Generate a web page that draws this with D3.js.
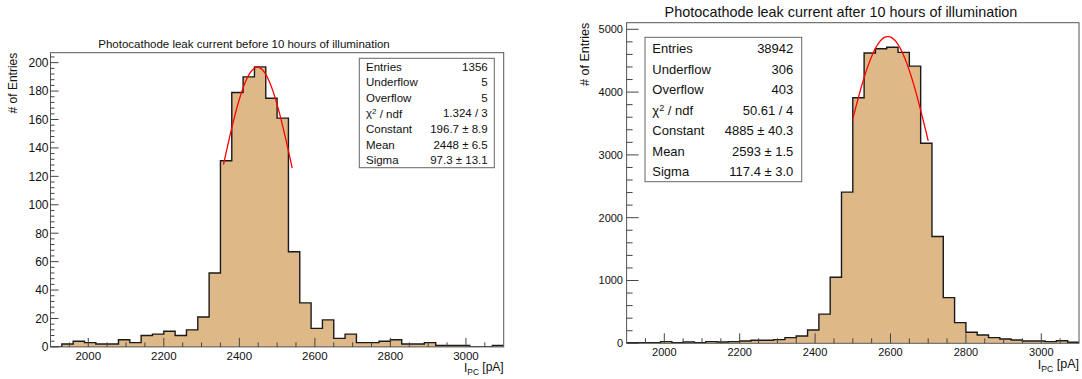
<!DOCTYPE html>
<html>
<head>
<meta charset="utf-8">
<script src="https://cdn.jsdelivr.net/npm/d3@7"></script>
<style>
  html, body { margin: 0; padding: 0; background: #fff; }
  svg { display: block; font-family: "Liberation Sans", Arial, Helvetica, sans-serif; }
</style>
</head>
<body>
<svg id="chart" width="1082" height="379"></svg>
<script>
// Histogram range and binning (40 bins of 30 pA)
const histRange = [1900, 3100];
const binCount = 40;

// Bin contents, before illumination
const beforeCounts = [
  0, 2, 4, 3, 2, 2, 5, 3, 8, 9,
  11, 8, 12, 21, 52, 131, 179, 190, 197, 175,
  161, 67, 31, 13, 19, 6, 9, 3, 3, 4,
  5, 2, 2, 3, 1, 1, 1, 0, 0, 1
];

// Bin contents, after 10 hours of illumination
const afterCounts = [
  10, 10, 10, 26, 10, 21, 10, 26, 21, 26,
  37, 48, 48, 58, 90, 117, 212, 465, 1052, 2407,
  3910, 4623, 4690, 4713, 4633, 4413, 3185, 1700, 727, 329,
  175, 132, 90, 69, 53, 37, 37, 27, 40, 16
];

// Gaussian fit parameters [constant, mean, sigma] and fit ranges
const beforeFit = [196.7, 2448, 97.3];
const beforeFitRange = [2358, 2540];
const afterFit = [4885, 2593, 117.4];
const afterFitRange = [2500, 2700];

// Statistics box contents
const statNames = ["Entries", "Underflow", "Overflow", "CHI2", "Constant", "Mean", "Sigma"];
const beforeStats = ["1356", "5", "5", "1.324 / 3", "196.7 \u00b1 8.9", "2448 \u00b1 6.5", "97.3 \u00b1 13.1"];
const afterStats = ["38942", "306", "403", "50.61 / 4", "4885 \u00b1 40.3", "2593 \u00b1 1.5", "117.4 \u00b1 3.0"];

// Axis tick labels
const xTickValues = [2000, 2200, 2400, 2600, 2800, 3000];
const beforeYTicks = [0, 20, 40, 60, 80, 100, 120, 140, 160, 180, 200];
const afterYTicks = [0, 1000, 2000, 3000, 4000, 5000];

const titles = [
  "Photocathode leak current before 10 hours of illumination",
  "Photocathode leak current after 10 hours of illumination"
];

const svg = d3.select("#chart");

function drawPanel(cfg) {
  const g = svg.append("g");
  const x = d3.scaleLinear().domain(histRange).range([cfg.x0, cfg.x1]);
  const y = d3.scaleLinear().domain([0, cfg.yMax]).range([cfg.y1, cfg.y0]);
  const bw = (histRange[1] - histRange[0]) / binCount;

  const clipId = "clip-" + cfg.id;
  svg.append("clipPath").attr("id", clipId)
    .append("rect").attr("x", cfg.x0).attr("y", cfg.y0)
    .attr("width", cfg.x1 - cfg.x0).attr("height", cfg.y1 - cfg.y0);

  // step points: lower edge of each bin, plus closing upper edge
  const pts = cfg.counts.map((c, i) => [histRange[0] + i * bw, c]);
  pts.push([histRange[1], cfg.counts[cfg.counts.length - 1]]);

  const area = d3.area()
    .x(d => x(d[0])).y0(y(0)).y1(d => y(d[1]))
    .curve(d3.curveStepAfter);
  const line = d3.line()
    .x(d => x(d[0])).y(d => y(d[1]))
    .curve(d3.curveStepAfter);

  const hg = g.append("g").attr("clip-path", `url(#${clipId})`);
  hg.append("path").attr("d", area(pts)).attr("fill", "#deb887");
  hg.append("path").attr("d", line(pts)).attr("fill", "none")
    .attr("stroke", "#1a1a1a").attr("stroke-width", 1.4);

  // Gaussian fit curve
  const [A, mu, sig] = cfg.fit;
  const fx = d3.range(0, 101).map(k => cfg.fitRange[0] + k * (cfg.fitRange[1] - cfg.fitRange[0]) / 100);
  const fitLine = d3.line().x(d => x(d)).y(d => y(A * Math.exp(-0.5 * ((d - mu) / sig) ** 2)));
  hg.append("path").attr("d", fitLine(fx)).attr("fill", "none")
    .attr("stroke", "#ff0000").attr("stroke-width", 1.3);

  // Frame
  g.append("rect").attr("x", cfg.x0).attr("y", cfg.y0)
    .attr("width", cfg.x1 - cfg.x0).attr("height", cfg.y1 - cfg.y0)
    .attr("fill", "none").attr("stroke", "#555").attr("stroke-width", 1);

  // X axis ticks (inside the frame)
  const xMinor = d3.range(histRange[0] + 50, histRange[1], 50).filter(v => v % 200 !== 0);
  g.selectAll(null).data(xMinor).join("line")
    .attr("x1", d => x(d)).attr("x2", d => x(d))
    .attr("y1", cfg.y1).attr("y2", cfg.y1 - cfg.xTickMinor)
    .attr("stroke", "#444").attr("stroke-width", 1);
  g.selectAll(null).data(xTickValues).join("line")
    .attr("x1", d => x(d)).attr("x2", d => x(d))
    .attr("y1", cfg.y1).attr("y2", cfg.y1 - cfg.xTickMajor)
    .attr("stroke", "#444").attr("stroke-width", 1);
  g.selectAll(null).data(xTickValues).join("text")
    .attr("x", d => x(d)).attr("y", cfg.xLabelY)
    .attr("text-anchor", "middle").attr("font-size", cfg.xLabelSize)
    .attr("fill", "#111").text(d => d);

  // Y axis ticks
  const yMinor = d3.range(0, cfg.yMax, cfg.yMinorStep).filter(v => Math.abs(v % cfg.yMajorStep) > 1e-6);
  g.selectAll(null).data(yMinor).join("line")
    .attr("x1", cfg.x0).attr("x2", cfg.x0 + cfg.yTickMinor)
    .attr("y1", d => y(d)).attr("y2", d => y(d))
    .attr("stroke", "#444").attr("stroke-width", 1);
  g.selectAll(null).data(cfg.yTicks).join("line")
    .attr("x1", cfg.x0).attr("x2", cfg.x0 + cfg.yTickMajor)
    .attr("y1", d => y(d)).attr("y2", d => y(d))
    .attr("stroke", "#444").attr("stroke-width", 1);
  g.selectAll(null).data(cfg.yTicks).join("text")
    .attr("x", cfg.yLabelX).attr("y", d => y(d)).attr("dy", "0.36em")
    .attr("text-anchor", "end").attr("font-size", cfg.yLabelSize)
    .attr("fill", "#111").text(d => d);

  // Axis titles
  const xt = g.append("text").attr("x", cfg.x1).attr("y", cfg.xTitleY)
    .attr("text-anchor", "end").attr("font-size", cfg.titleAxisSize).attr("fill", "#111");
  xt.append("tspan").text("I");
  xt.append("tspan").attr("font-size", cfg.titleAxisSize * 0.7).attr("dy", "0.3em").text("PC");
  xt.append("tspan").attr("dy", "-0.3em").attr("font-size", cfg.titleAxisSize).text(" [pA]");

  g.append("text")
    .attr("transform", `translate(${cfg.yTitleX},${cfg.y0}) rotate(-90)`)
    .attr("text-anchor", "end").attr("font-size", cfg.titleAxisSize)
    .attr("fill", "#111").text("# of Entries");

  // Title
  g.append("text").attr("x", cfg.titleX).attr("y", cfg.titleY)
    .attr("text-anchor", "middle").attr("font-size", cfg.titleSize)
    .attr("fill", "#111").text(cfg.title);

  // Statistics box
  const sb = cfg.stat;
  g.append("rect").attr("x", sb.x0).attr("y", sb.y0)
    .attr("width", sb.x1 - sb.x0).attr("height", sb.y1 - sb.y0)
    .attr("fill", "#fff").attr("stroke", "#666").attr("stroke-width", 1);
  statNames.forEach((name, i) => {
    const ry = sb.row0 + i * sb.rowStep;
    const t = g.append("text").attr("x", sb.labelX).attr("y", ry).attr("dy", "0.36em")
      .attr("font-size", sb.size).attr("fill", "#111");
    if (name === "CHI2") {
      t.append("tspan").text("\u03c7");
      t.append("tspan").attr("font-size", sb.size * 0.7).attr("dy", "-0.45em").text("2");
      t.append("tspan").attr("dy", "0.32em").text(" / ndf");
    } else {
      t.text(name);
    }
    g.append("text").attr("x", sb.valueX).attr("y", ry).attr("dy", "0.36em")
      .attr("text-anchor", "end").attr("font-size", sb.size).attr("fill", "#111")
      .text(cfg.stats[i]);
  });
}

drawPanel({
  id: "before", counts: beforeCounts, fit: beforeFit, fitRange: beforeFitRange,
  stats: beforeStats, yTicks: beforeYTicks, title: titles[0],
  x0: 50.5, x1: 503.7, y0: 52.7, y1: 346.9, yMax: 207,
  yMajorStep: 20, yMinorStep: 4,
  xTickMajor: 9, xTickMinor: 4.5, yTickMajor: 8, yTickMinor: 4,
  xLabelY: 360, xLabelSize: 11.5, yLabelX: 48.5, yLabelSize: 12,
  xTitleY: 372, yTitleX: 16.5, titleAxisSize: 12,
  titleX: 244, titleY: 48, titleSize: 11.5,
  stat: { x0: 359.3, x1: 494.3, y0: 58.3, y1: 167.7, row0: 66.7, rowStep: 15.55,
          labelX: 366, valueX: 487.7, size: 11.5 }
});

drawPanel({
  id: "after", counts: afterCounts, fit: afterFit, fitRange: afterFitRange,
  stats: afterStats, yTicks: afterYTicks, title: titles[1],
  x0: 626.6, x1: 1079, y0: 22.7, y1: 343.3, yMax: 5105,
  yMajorStep: 1000, yMinorStep: 200,
  xTickMajor: 10, xTickMinor: 5, yTickMajor: 12, yTickMinor: 6,
  xLabelY: 356, xLabelSize: 11, yLabelX: 623, yLabelSize: 11,
  xTitleY: 369, yTitleX: 588.5, titleAxisSize: 12.5,
  titleX: 841, titleY: 17, titleSize: 14.4,
  stat: { x0: 645, x1: 801.7, y0: 37.3, y1: 181.7, row0: 48.3, rowStep: 20.55,
          labelX: 652.3, valueX: 793.3, size: 13 }
});
</script>
</body>
</html>
